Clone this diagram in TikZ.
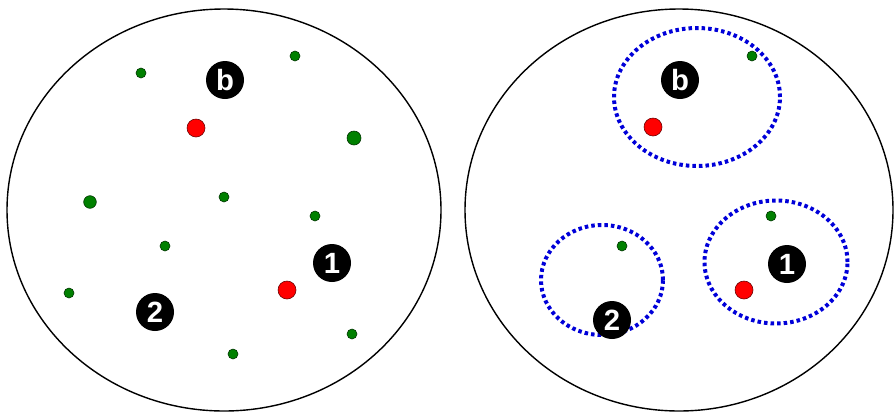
\documentclass[tikz,border=0pt]{standalone}
\usepackage{fontspec}
\setsansfont{Liberation Sans}
\usepackage{tikz}
\usetikzlibrary{positioning,shapes.geometric,backgrounds}

\begin{document}
\begin{tikzpicture}[
  x=0.03cm, y=-0.03cm,
  world/.style={draw, ellipse, line width=1.2pt},
  cluster/.style={draw=blue!85!black, ellipse, line width=3.4pt, dash pattern=on 3pt off 2.6pt},
  label/.style={circle, fill=black, inner sep=0pt, minimum size=1.14cm, text=white, font=\sffamily\bfseries\fontsize{25}{25}\selectfont},
  seed/.style={circle, draw=red!40!black, fill=red, inner sep=0pt, minimum size=0.54cm, line width=0.5pt},
  point/.style={circle, draw=green!20!black, fill=green!50!black, inner sep=0pt, minimum size=0.3cm, line width=0.5pt}
]
  \useasboundingbox (0,0) rectangle (895,412);

  % Before clustering
  \node[world, minimum width=434*0.03cm, minimum height=402*0.03cm] (wl) at (224,210) {};
  \node[label] (lb) at (225,80) {b};
  \node[label] (l1) at (332,263) {1};
  \node[label] (l2) at (155,312) {2};
  \node[seed] (ls1) at (196,128) {};
  \node[seed] (ls2) at (287,290) {};
  \foreach \i/\x/\y in {1/141/73, 2/295/56, 3/224/197, 4/315/216, 5/165/246, 6/69/293, 7/352/334, 8/233/354} {
    \node[point] (lp\i) at (\x,\y) {};
  }
  \node[point, minimum size=0.42cm] (lp9) at (354,138) {};
  \node[point, minimum size=0.38cm] (lp10) at (90,202) {};

  % After clustering
  \node[world, minimum width=428*0.03cm, minimum height=402*0.03cm] (wr) at (679,210) {};
  \node[cluster, minimum width=166*0.03cm, minimum height=138*0.03cm] (cb) at (697,97) {};
  \node[cluster, minimum width=143*0.03cm, minimum height=123*0.03cm] (c1) at (776,262) {};
  \node[cluster, minimum width=122*0.03cm, minimum height=110*0.03cm] (c2) at (602,280) {};
  \node[label] (rb) at (680,80) {b};
  \node[label] (r1) at (787,264) {1};
  \node[label] (r2) at (612,320) {2};
  \node[seed] (rs1) at (653,127) {};
  \node[seed] (rs2) at (744,290) {};
  \foreach \i/\x/\y in {1/752/56, 2/771/216, 3/622/246} {
    \node[point] (rp\i) at (\x,\y) {};
  }
\end{tikzpicture}
\end{document}
